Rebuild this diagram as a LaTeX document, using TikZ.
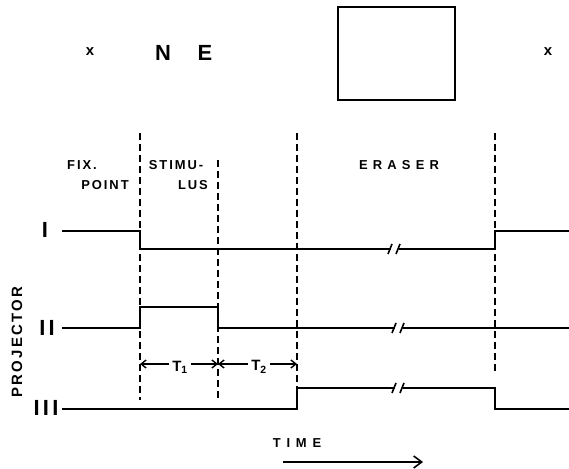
\documentclass[tikz,border=0pt]{standalone}
\usepackage{fontspec}
\setmainfont{Liberation Sans}
\newfontfamily\lbf[LetterSpace=15]{Liberation Sans}
\usetikzlibrary{arrows.meta,positioning}
\tikzset{s/.style={line width=2.2bp,line join=miter},
 g/.style={line width=1.4bp,dash pattern=on 7bp off 4bp},
 lb/.style={font=\lbf\bfseries\fontsize{13}{15}\selectfont,align=center,inner sep=0pt},
 pr/.style={font=\lbf\bfseries\fontsize{22}{22}\selectfont,inner sep=0pt},
 ar/.style={line width=1.4bp,-{Straight Barb[length=5bp,width=8bp]}},
 brk/.pic={\fill[white](-4,-4)rectangle(4,4);\draw[line width=1.6bp](-7,5)--(-3,-5)(1,5)--(5,-5);}}
\begin{document}
\begin{tikzpicture}[x=1bp,y=-1bp]
\useasboundingbox (0,0) rectangle (569,469);
% display frames
\node[font=\bfseries\fontsize{15}{15}\selectfont,inner sep=0pt](fx1) at (90,52){x};
\node[font=\bfseries\fontsize{22}{22}\selectfont,inner sep=0pt](n) at (163,53){N};
\node[font=\bfseries\fontsize{22}{22}\selectfont,inner sep=0pt](e) at (205,53){E};
\node[draw,line width=1.8bp,minimum width=117bp,minimum height=93bp](msk) at (396.5,53.5){};
\node[font=\bfseries\fontsize{15}{15}\selectfont,inner sep=0pt](fx2) at (548,52){x};
% phase labels
\node[lb](fix) at (82,165){FIX.};\node[lb](pnt) at (105,185){POINT};
\node[lb](stm) at (176,165){STIMU-};\node[lb](lus) at (193,185){LUS};
\node[lb](ers) at (399,165){\addfontfeature{LetterSpace=40}ERASER};
% phase boundaries
\draw[g](140,133)--(140,400);\draw[g](218,160)--(218,400);
\draw[g](297,133)--(297,388);\draw[g](495,133)--(495,375);
% projectors
\node[pr](p1) at (45,230){I};\node[pr](p2) at (47,328){II};\node[pr](p3) at (46,408){III};
\node[lb,rotate=90,font=\lbf\bfseries\fontsize{15}{15}\selectfont](proj) at (17,342){PROJECTOR};
\draw[s](62,231)--(140,231)--(140,249)--(495,249)--(495,231)--(569,231);
\draw[s](62,328)--(140,328)--(140,307)--(218,307)--(218,328)--(569,328);
\draw[s](62,409)--(297,409)--(297,388)--(495,388)--(495,409)--(569,409);
\pic at (395,249){brk};\pic at (399,328){brk};\pic at (399,388){brk};
% intervals
\coordinate(a1) at (140,364);\coordinate(a2) at (218,364);\coordinate(a3) at (297,364);
\node[lb,inner sep=3bp,font=\lbf\bfseries\fontsize{15}{17}\selectfont](t1) at (180,367){T\textsubscript{1}};
\node[lb,inner sep=3bp,font=\lbf\bfseries\fontsize{15}{17}\selectfont](t2) at (259,367){T\textsubscript{2}};
\draw[ar](t1.west|-a1)--(a1);\draw[ar](t1.east|-a1)--(a2);\draw[ar](t2.west|-a2)--(a2);\draw[ar](t2.east|-a3)--(a3);
% time axis
\node[lb](time) at (297,443){\addfontfeature{LetterSpace=45}TIME};
\coordinate(t0) at (283,462);\coordinate(t9) at (423,462);
\draw[line width=1.6bp,-{Straight Barb[length=8bp,width=12bp]}](t0)--(t9);
\end{tikzpicture}
\end{document}
